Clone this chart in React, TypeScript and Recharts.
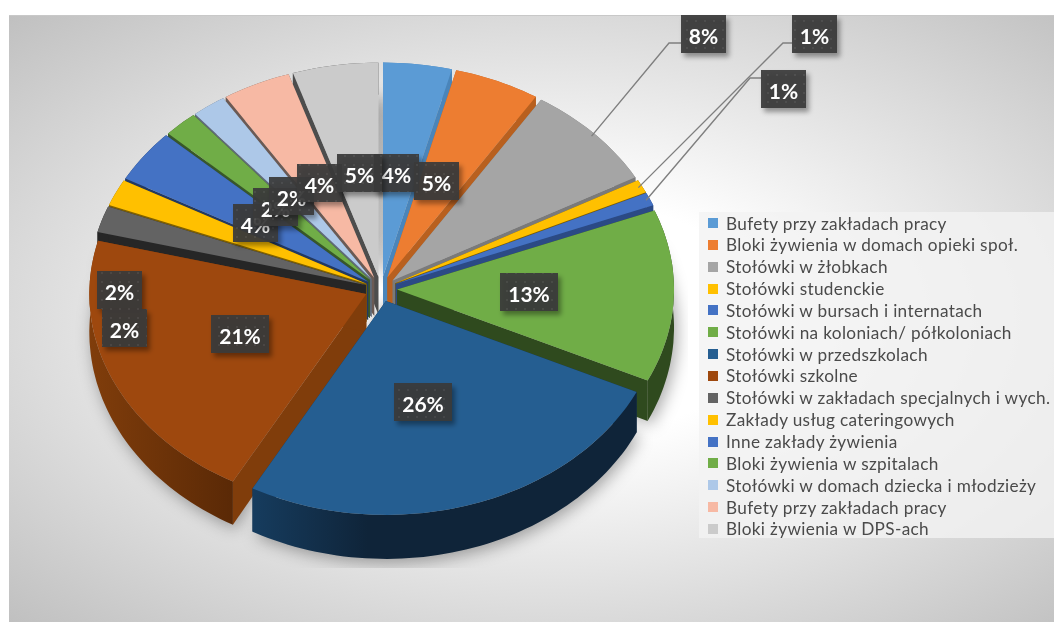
import { PieChart, Pie, Legend } from 'recharts';

const CATEGORIES = [
  'Bufety przy zakładach pracy',
  'Bloki żywienia w domach opieki społ.',
  'Stołówki w żłobkach',
  'Stołówki studenckie',
  'Stołówki w bursach i internatach',
  'Stołówki na koloniach/ półkoloniach',
  'Stołówki w przedszkolach',
  'Stołówki szkolne',
  'Stołówki w zakładach specjalnych i wych.',
  'Zakłady usług cateringowych',
  'Inne zakłady żywienia',
  'Bloki żywienia w szpitalach',
  'Stołówki w domach dziecka i młodzieży',
  'Bufety przy zakładach pracy',
  'Bloki żywienia w DPS-ach',
];
const VALUES = [4, 5, 8, 1, 1, 13, 26, 21, 2, 2, 4, 2, 2, 4, 5];

const FACE_COLORS = ['#5b9bd5', '#ed7d31', '#a5a5a5', '#ffc000', '#4472c4', '#70ad47', '#255e91', '#9e480e', '#636363', '#ffc000', '#4472c4', '#70ad47', '#adc8e8', '#f7b9a4', '#cbcbcb'];
const WALL_COLORS = ['#4a85ba', '#b8601f', '#7a7a7a', '#806000', '#2b4a85', '#2f4a1e', '#143350', '#803d0b', '#262626', '#7f6000', '#223962', '#38572a', '#5f6a78', '#6b5a54', '#4d4d4d'];

// walls are painted back to front: left side from the top down, then right side, blue last
const WALL_ORDER = [14, 13, 12, 11, 10, 9, 8, 0, 1, 2, 3, 4, 5, 7, 6];

// top-left corner of each value box
const LABEL_POS = [[374, 154], [414, 162], [681, 15], [792, 15], [761, 70], [500, 273], [394, 383], [211, 315], [97, 271], [102, 309], [233, 204], [253, 188], [269, 177], [297, 164], [337, 154]];
// leader line elbows for the slices whose box sits outside the pie
const LEADERS: Record<number, number[]> = { 2: [669, 43, 681, 43], 3: [783, 43, 792, 43], 4: [750, 78, 761, 78] };

const TOTAL = VALUES.reduce((a, b) => a + b, 0);
const rows = CATEGORIES.map((name, i) => ({ name, value: VALUES[i], fill: FACE_COLORS[i], i }));

const SQUASH = 214 / 277;
const EXPLODE_X = 16;
const EXPLODE_Y = 12.5;
const rad = (d: number) => (d * Math.PI) / 180;
const depthAt = (a: number) => 38 - 6 * Math.cos(rad(a));

function geometry(p: any) {
  const a0 = 90 - p.startAngle;
  const a1 = 90 - p.endAngle;
  const mid = (a0 + a1) / 2;
  const tx = p.cx + EXPLODE_X * Math.sin(rad(mid));
  const ty = p.cy - EXPLODE_Y * Math.cos(rad(mid));
  const at = (a: number, r = p.outerRadius) => [tx + r * Math.sin(rad(a)), ty - r * SQUASH * Math.cos(rad(a))];
  const arc: number[] = [];
  for (let a = a0; a < a1; a += 1.5) arc.push(a);
  arc.push(a1);
  return { a0, a1, tx, ty, at, arc };
}

const toPath = (pts: number[][]) => 'M' + pts.map((q) => `${q[0].toFixed(1)} ${q[1].toFixed(1)}`).join('L') + 'Z';

function FaceShape(p: any) {
  const g = geometry(p);
  return <path d={toPath([[g.tx, g.ty], ...g.arc.map((a) => g.at(a))])} fill={FACE_COLORS[p.i]} />;
}

function WallShape(p: any) {
  const g = geometry(p);
  const tip = [g.tx, g.ty];
  const tipLow = [g.tx, g.ty + 38];
  const low = (a: number) => {
    const q = g.at(a);
    return [q[0], q[1] + depthAt(a)];
  };
  const outer = [...g.arc.map((a) => g.at(a)), ...[...g.arc].reverse().map(low)];
  const outerFill = p.i === 6 ? 'url(#wallBlue)' : p.i === 7 ? 'url(#wallBrown)' : WALL_COLORS[p.i];
  return (
    <g>
      <path d={toPath([tip, g.at(g.a0), low(g.a0), tipLow])} fill={WALL_COLORS[p.i]} />
      <path d={toPath([tip, g.at(g.a1), low(g.a1), tipLow])} fill={WALL_COLORS[p.i]} />
      <path d={toPath(outer)} fill={outerFill} />
    </g>
  );
}

function ShadowShape(p: any) {
  const g = geometry(p);
  const pts = [[g.tx, g.ty], ...g.arc.map((a) => { const q = g.at(a); return [q[0] + 3, q[1] + depthAt(a) + 4]; })];
  return (
    <g clipPath="url(#shadowClip)">
      <path d={toPath(pts)} fill="#000" fillOpacity={0.34} filter="url(#softShadow)" />
    </g>
  );
}

function renderLabel(p: any) {
  const i = p.i ?? p.index;
  const [x, y] = LABEL_POS[i];
  const value = VALUES[i];
  const w = value >= 10 ? 58 : 45;
  const leader = LEADERS[i];
  let line = null;
  if (leader) {
    const g = geometry(p);
    const m = g.at((g.a0 + g.a1) / 2, p.outerRadius * 0.985);
    line = <polyline points={`${m[0]},${m[1]} ${leader.join(' ')}`} fill="none" stroke="#7f7f7f" strokeWidth={1.4} />;
  }
  return (
    <g key={i}>
      {line}
      <rect x={x} y={y} width={w} height={38} fill="url(#dots)" fillOpacity={0.93} filter="url(#boxShadow)" />
      <text x={x + w / 2} y={y + 20} textAnchor="middle" dominantBaseline="central" fontFamily="Lato" fontWeight={700} fontSize={21} fill="#fff">
        {Math.round((value / TOTAL) * 100)}%
      </text>
    </g>
  );
}

function renderLegend() {
  return (
    <div style={{ width: 355, height: 326, background: 'rgba(242,242,242,0.8)' }}>
      {CATEGORIES.map((name, i) => (
        <div key={i} style={{ position: 'absolute', top: i * 21.85, left: 0, height: 22, display: 'flex', alignItems: 'center', whiteSpace: 'nowrap' }}>
          <span style={{ display: 'block', width: 10, height: 10, marginLeft: 9, marginRight: 8, background: FACE_COLORS[i] }} />
          <span style={{ fontFamily: 'Lato', fontSize: 17.2, letterSpacing: 0.35, color: '#4a4a4a' }}>{name}</span>
        </div>
      ))}
    </div>
  );
}

const pieProps = {
  data: rows,
  dataKey: 'value',
  nameKey: 'name',
  cx: 381,
  cy: 289,
  outerRadius: 277,
  startAngle: 90,
  endAngle: -270,
  stroke: 'none',
  isAnimationActive: false,
};

export default function App() {
  return (
    <div style={{ position: 'absolute', left: 0, top: 0, width: 1054, height: 622, overflow: 'hidden', background: '#fff' }}>
      <div style={{
        position: 'absolute', left: 9, top: 15, width: 1045, height: 607, borderTop: '1px solid #c8c8c8', boxSizing: 'border-box',
        background: 'radial-gradient(farthest-corner at 52% 50%, #ffffff 0%, #ffffff 28%, #c0c0c0 100%)',
      }} />
      <div style={{ position: 'absolute', left: 0, top: 0, filter: 'blur(0.4px)' }}>
        <PieChart width={1054} height={622} margin={{ top: 0, right: 0, bottom: 0, left: 0 }}>
          <defs>
            <clipPath id="shadowClip"><rect x={0} y={0} width={688} height={568} /></clipPath>
            <filter id="softShadow" x="-30%" y="-30%" width="160%" height="160%"><feGaussianBlur stdDeviation={8} /></filter>
            <filter id="boxShadow" x="-30%" y="-30%" width="170%" height="170%">
              <feDropShadow dx={3} dy={4} stdDeviation={2.5} floodColor="#000" floodOpacity={0.4} />
            </filter>
            <pattern id="dots" width={9} height={9} patternUnits="userSpaceOnUse">
              <rect width={9} height={9} fill="#3a3a3a" />
              <circle cx={3} cy={3} r={1.1} fill="#4a4a4a" />
            </pattern>
            <linearGradient id="wallBlue" x1="0" y1="0" x2="1" y2="0">
              <stop offset="0%" stopColor="#163c5e" />
              <stop offset="30%" stopColor="#0f2439" />
              <stop offset="100%" stopColor="#0f2439" />
            </linearGradient>
            <linearGradient id="wallBrown" x1="0" y1="0" x2="1" y2="0">
              <stop offset="0%" stopColor="#803d0b" />
              <stop offset="100%" stopColor="#5a2906" />
            </linearGradient>
          </defs>
          <Pie {...pieProps} legendType="none" shape={ShadowShape} />
          {WALL_ORDER.map((idx) => (
            <Pie key={idx} {...pieProps} legendType="none" shape={(p: any) => (p.i === idx ? <WallShape {...p} /> : <g />)} />
          ))}
          <Pie {...pieProps} shape={FaceShape} label={renderLabel} labelLine={false} />
          <Legend content={renderLegend} wrapperStyle={{ position: 'absolute', left: 699, top: 212, width: 355, height: 326, bottom: 'auto', margin: 0 }} />
        </PieChart>
      </div>
    </div>
  );
}
